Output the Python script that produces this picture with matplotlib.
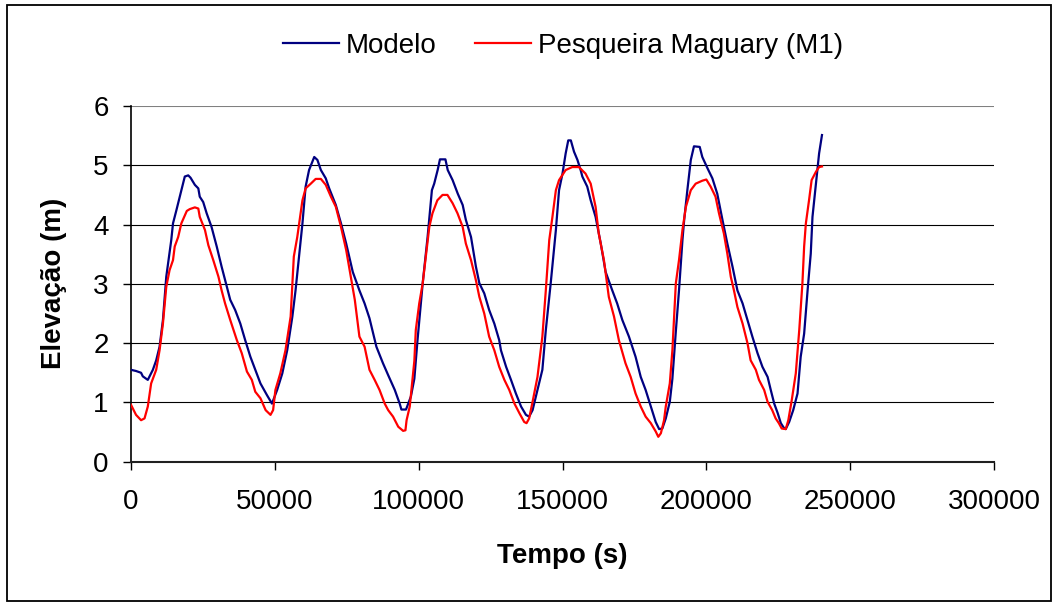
import matplotlib
matplotlib.use("Agg")
import matplotlib.pyplot as plt
from matplotlib.patches import Rectangle

plt.rcParams['font.family'] = ['Liberation Sans', 'DejaVu Sans']

# Modelo (time in s, elevation in m)
t_modelo = [0, 1750, 3500, 4100, 5840, 7600, 8760, 9930, 11100, 12260, 14000, 14600,
            15770, 17500, 18700, 19900, 20700, 22200, 23400, 23900, 25100, 26300, 28000,
            29800, 31500, 33300, 34500, 36200, 38000, 39700, 41500, 43200, 45000, 47300,
            49000, 50800, 52600, 54300, 56100, 57200, 58400, 59600, 60700, 61900, 63700,
            64800, 66000, 67700, 68900, 71200, 73000, 74800, 77100, 79400, 81200, 82900,
            85300, 87600, 89400, 91700, 93400, 94000, 95600, 97300, 98500, 99600, 101400,
            103100, 104600, 105400, 106600, 107400, 109300, 110100, 111800, 113600, 115300,
            116400, 118200, 119900, 121100, 122800, 124500, 126300, 128000, 128600, 130400,
            132100, 133800, 135600, 137300, 138400, 139600, 141300, 143000, 144200, 145900,
            147700, 148800, 150000, 151100, 152000, 152900, 154000, 155200, 156300, 156900,
            158600, 159800, 161500, 163300, 165000, 167300, 169000, 170800, 173100, 175400,
            177200, 178900, 180700, 182400, 183600, 184700, 185900, 187300, 188200, 189400,
            190500, 191700, 192300, 193400, 194600, 195700, 197700, 198600, 200400, 202100,
            203800, 205600, 207300, 209100, 210800, 212600, 214300, 216000, 217800, 219500,
            221300, 222400, 223600, 224800, 225900, 227100, 227600, 228800, 230200, 231700,
            232800, 234000, 235200, 236300, 236900, 238100, 239200, 240200]
y_modelo = [1.55, 1.53, 1.50, 1.44, 1.38, 1.55, 1.71, 1.94, 2.39, 3.12, 3.74, 4.02,
            4.24, 4.58, 4.81, 4.83, 4.79, 4.67, 4.61, 4.47, 4.38, 4.19, 3.96,
            3.63, 3.29, 2.95, 2.73, 2.56, 2.33, 2.05, 1.77, 1.55, 1.32, 1.12,
            0.98, 1.21, 1.49, 1.88, 2.45, 2.89, 3.46, 4.02, 4.64, 4.92, 5.14,
            5.09, 4.92, 4.78, 4.61, 4.33, 4.02, 3.68, 3.20, 2.89, 2.67, 2.42,
            1.94, 1.66, 1.46, 1.21, 0.98, 0.88, 0.88, 1.10, 1.40, 2.05, 3.01,
            3.79, 4.58, 4.69, 4.92, 5.10, 5.10, 4.92, 4.75, 4.52, 4.33,
            4.08, 3.79, 3.29, 3.01, 2.84, 2.56, 2.33, 2.05, 1.88, 1.60,
            1.38, 1.15, 0.93, 0.79, 0.76, 0.87, 1.21, 1.55, 2.22, 3.01,
            3.91, 4.58, 4.86, 5.20, 5.42, 5.42, 5.23, 5.09, 4.92, 4.81,
            4.64, 4.41, 4.13, 3.68, 3.20, 2.89, 2.67, 2.39, 2.11, 1.77,
            1.43, 1.21, 0.93, 0.67, 0.55, 0.56, 0.73, 1.01, 1.40, 2.20,
            2.89, 3.74, 4.08, 4.58, 5.09, 5.32, 5.31, 5.14, 4.95, 4.78,
            4.52, 4.08, 3.68, 3.29, 2.89, 2.67, 2.39, 2.11, 1.83, 1.60,
            1.43, 1.21, 0.98, 0.82, 0.65, 0.56, 0.55, 0.67, 0.87, 1.15,
            1.77, 2.16, 2.89, 3.51, 4.13, 4.69, 5.20, 5.51]

# Pesqueira Maguary (M1)
t_m1 = [0, 1750, 3500, 4700, 5840, 7000, 8760, 9930, 11100, 12260, 13400, 14600,
        15200, 16400, 17500, 19400, 20400, 22200, 23400, 23900, 25700, 26900, 28600,
        30400, 31500, 32700, 34500, 36800, 38500, 40300, 42000, 43200, 45000, 46800,
        48500, 49400, 50200, 51900, 53700, 55500, 56600, 57800, 59600, 60700, 62500,
        64200, 66000, 67700, 69500, 71200, 73000, 74800, 76600, 77800, 79400, 81200,
        82900, 84700, 86400, 88200, 89400, 91100, 92900, 94600, 95400, 95800, 96900,
        98500, 99000, 100200, 101400, 102500, 103700, 104800, 106500, 108300, 110000,
        111800, 113500, 115300, 116400, 118200, 119900, 121100, 122800, 124500, 126300,
        128000, 129800, 131500, 133300, 135000, 136700, 137500, 138400, 139600, 141300,
        143000, 144200, 145400, 146500, 147700, 148800, 151100, 153400, 155700, 158000,
        159800, 161500, 162600, 164400, 166100, 167900, 169600, 171900, 173700, 175400,
        177200, 178900, 180700, 182400, 183300, 184200, 185300, 185900, 187300, 188200,
        189400, 190500, 191700, 192900, 194600, 196300, 198600, 200000, 201500, 203200,
        204400, 206100, 207300, 208500, 209600, 210800, 212600, 214300, 215400, 217200,
        218300, 220100, 221300, 222900, 224100, 225200, 226200, 227600, 228500, 229700,
        231100, 232300, 233400, 234000, 234600, 235700, 236600, 238100, 239200, 240200]
y_m1 = [0.96, 0.79, 0.70, 0.73, 0.93, 1.32, 1.55, 1.88, 2.33, 2.95, 3.23, 3.40,
        3.63, 3.79, 4.02, 4.23, 4.26, 4.29, 4.27, 4.13, 3.91, 3.65, 3.40,
        3.12, 2.89, 2.67, 2.39, 2.05, 1.83, 1.52, 1.38, 1.18, 1.07, 0.87,
        0.79, 0.87, 1.21, 1.49, 1.88, 2.45, 3.46, 3.79, 4.41, 4.61, 4.69,
        4.77, 4.77, 4.67, 4.47, 4.30, 3.96, 3.57, 3.06, 2.73, 2.11, 1.94,
        1.55, 1.38, 1.21, 0.98, 0.87, 0.76, 0.59, 0.52, 0.53, 0.70, 0.93,
        1.70, 2.22, 2.67, 3.01, 3.46, 3.96, 4.19, 4.41, 4.50, 4.50,
        4.36, 4.19, 3.96, 3.68, 3.40, 3.06, 2.78, 2.50, 2.11, 1.88,
        1.60, 1.38, 1.21, 0.98, 0.82, 0.67, 0.65, 0.73, 1.01, 1.43,
        2.11, 2.89, 3.74, 4.13, 4.58, 4.75, 4.92, 4.97, 4.97, 4.86,
        4.69, 4.30, 3.85, 3.40, 2.78, 2.45, 2.05, 1.66, 1.43, 1.15,
        0.93, 0.76, 0.65, 0.51, 0.42, 0.48, 0.70, 0.93, 1.32, 1.88,
        3.01, 3.40, 3.91, 4.30, 4.58, 4.69, 4.74, 4.76, 4.64, 4.47,
        4.19, 3.85, 3.51, 3.12, 2.89, 2.61, 2.33, 2.00, 1.71, 1.55,
        1.38, 1.21, 1.01, 0.87, 0.73, 0.65, 0.56, 0.55, 0.70, 1.04,
        1.49, 2.22, 3.01, 3.63, 4.02, 4.41, 4.75, 4.89, 4.97, 4.98]

x_ticks = [0, 50000, 100000, 150000, 200000, 250000, 300000]
y_ticks = [0, 1, 2, 3, 4, 5, 6]
series_labels = ["Modelo", "Pesqueira Maguary (M1)"]

W, H = 1058, 603
fig = plt.figure(figsize=(W / 100, H / 100), dpi=100)
fig.patch.set_facecolor('white')

# outer chart border
fig.add_artist(Rectangle((7 / W, 1 - 601 / H), (1051 - 7) / W, (601 - 5) / H,
                         transform=fig.transFigure, fill=False,
                         edgecolor='black', linewidth=1.3))

ax = fig.add_axes([131 / W, 1 - 461.7 / H, (994 - 131) / W, (461.7 - 106) / H])

for yv in y_ticks[1:-1]:
    ax.axhline(yv, color='black', linewidth=0.8, zorder=1)
ax.axhline(y_ticks[-1], color='#808080', linewidth=1.5, zorder=1)

ax.plot(t_modelo, y_modelo, color='#000080', linewidth=1.6, label=series_labels[0], zorder=3)
ax.plot(t_m1, y_m1, color='#FF0000', linewidth=1.6, label=series_labels[1], zorder=3)

ax.set_xlim(0, 300000)
ax.set_ylim(0, 6)
ax.set_xticks(x_ticks)
ax.set_yticks(y_ticks)
ax.set_xticklabels([str(v) for v in x_ticks])
ax.tick_params(axis='both', labelsize=20, direction='out', length=6, width=1,
               color='black')
ax.tick_params(axis='x', pad=14)
ax.tick_params(axis='y', pad=10)

for s in ['top', 'right']:
    ax.spines[s].set_visible(False)
ax.spines['left'].set_color('black')
ax.spines['left'].set_linewidth(1.2)
ax.spines['bottom'].set_color('#202020')
ax.spines['bottom'].set_linewidth(1.5)

ax.set_xlabel('Tempo (s)', fontsize=20, fontweight='bold', labelpad=20)
ax.set_ylabel('Elevação (m)', fontsize=20, fontweight='bold', labelpad=19)

leg = ax.legend(loc='center', bbox_to_anchor=(563 / W, 1 - 46 / H), bbox_transform=fig.transFigure,
                ncol=2, frameon=False, fontsize=20, handlelength=2.0,
                handletextpad=0.25, columnspacing=1.4, borderaxespad=0)

fig.savefig('out.png', dpi=100, facecolor='white')
